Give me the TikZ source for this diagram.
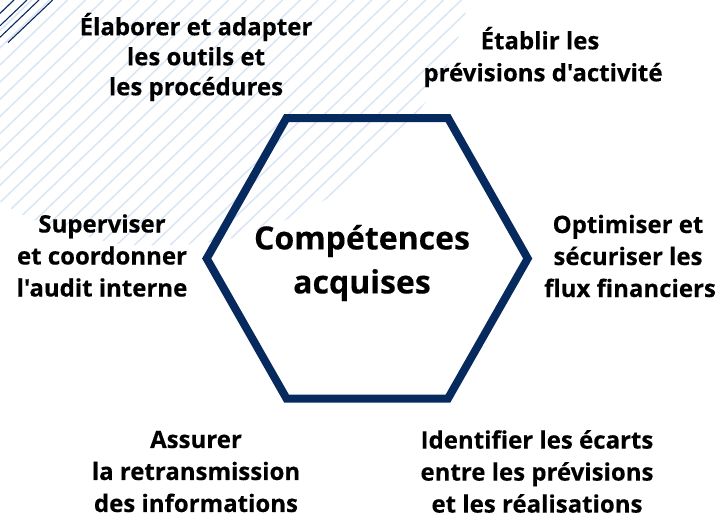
\documentclass[tikz,border=0pt]{standalone}
\usepackage{fontspec}
\setmainfont{Open Sans}[Ligatures=TeXOff,BoldFeatures={FakeBold=0.25}]
\definecolor{navy}{HTML}{062A5E}
\definecolor{pale}{HTML}{DAE6F5}
\tikzset{
  lbl/.style={inner sep=0pt,align=center,text=black,font=\fontsize{24}{32}\selectfont\bfseries},
  lbltight/.style={lbl,font=\fontsize{24}{30}\selectfont\bfseries},
  ttl/.style={inner sep=0pt,align=center,text=black,font=\fontsize{32}{44}\selectfont\bfseries},
  hexa/.style={draw=navy,line width=8pt,line join=miter},
  palestripe/.style={draw=pale,line width=1.5pt},
  darkstripe/.style={draw=navy,line width=1.1pt}
}
\begin{document}
\begin{tikzpicture}[x=1pt,y=-1pt]
\useasboundingbox (0,0) rectangle (720,512);
\fill[white] (0,0) rectangle (720,512);
\begin{scope}
  \clip (0,0) rectangle (720,512);
  \clip plot[smooth] coordinates {(-20,187) (1.7,203) (25,216) (60,229) (100,240) (130,245) (195,244) (240,236) (295,216) (335,193) (385,148) (425,103) (450,60) (460,32) (467,7) (472,-20)} -- (-20,-20) -- cycle;
  \foreach \k in {-8,...,30}{
    \pgfmathsetmacro{\c}{157.1+17.9*\k}
    \draw[palestripe] (\c,0) -- ({\c-300/0.96},300);
  }
\end{scope}
\begin{scope}
  \clip (0,0) rectangle (720,512);
  \foreach \t/\e in {14/14,27/27,39/39}{
    \draw[darkstripe] (\t,0) -- ({\t-\e},{\e*0.955});
  }
  \draw[darkstripe] (52.7,0) -- (8,42.5);
\end{scope}
\coordinate (h1) at (206.7,258.5);
\coordinate (h2) at (286.5,118);
\coordinate (h3) at (448,118);
\coordinate (h4) at (527.7,258.5);
\coordinate (h5) at (448,398.5);
\coordinate (h6) at (286.5,398.5);
\draw[hexa] (h1) -- (h2) -- (h3) -- (h4) -- (h5) -- (h6) -- cycle;
\node[ttl] (center) at (362,263) {Compétences\\acquises};
\node[lbltight] (n1) at (196,57) {Élaborer et adapter\\les outils et\\les procédures};
\node[lbl] (n2) at (543,57) {Établir les\kern6pt\\prévisions d'activité};
\node[lbl] (n3) at (630,256) {Optimiser et\kern4pt\\sécuriser les\kern4pt\\flux financiers};
\node[lbl] (n4) at (537,471.5) {Identifier les écarts\\entre les prévisions\\et les réalisations};
\node[lbl] (n5) at (196,471.5) {Assurer\\la retransmission\\des informations};
\node[lbl] (n6) at (102,255.5) {Superviser\\et coordonner\\l'audit interne};
\end{tikzpicture}
\end{document}
